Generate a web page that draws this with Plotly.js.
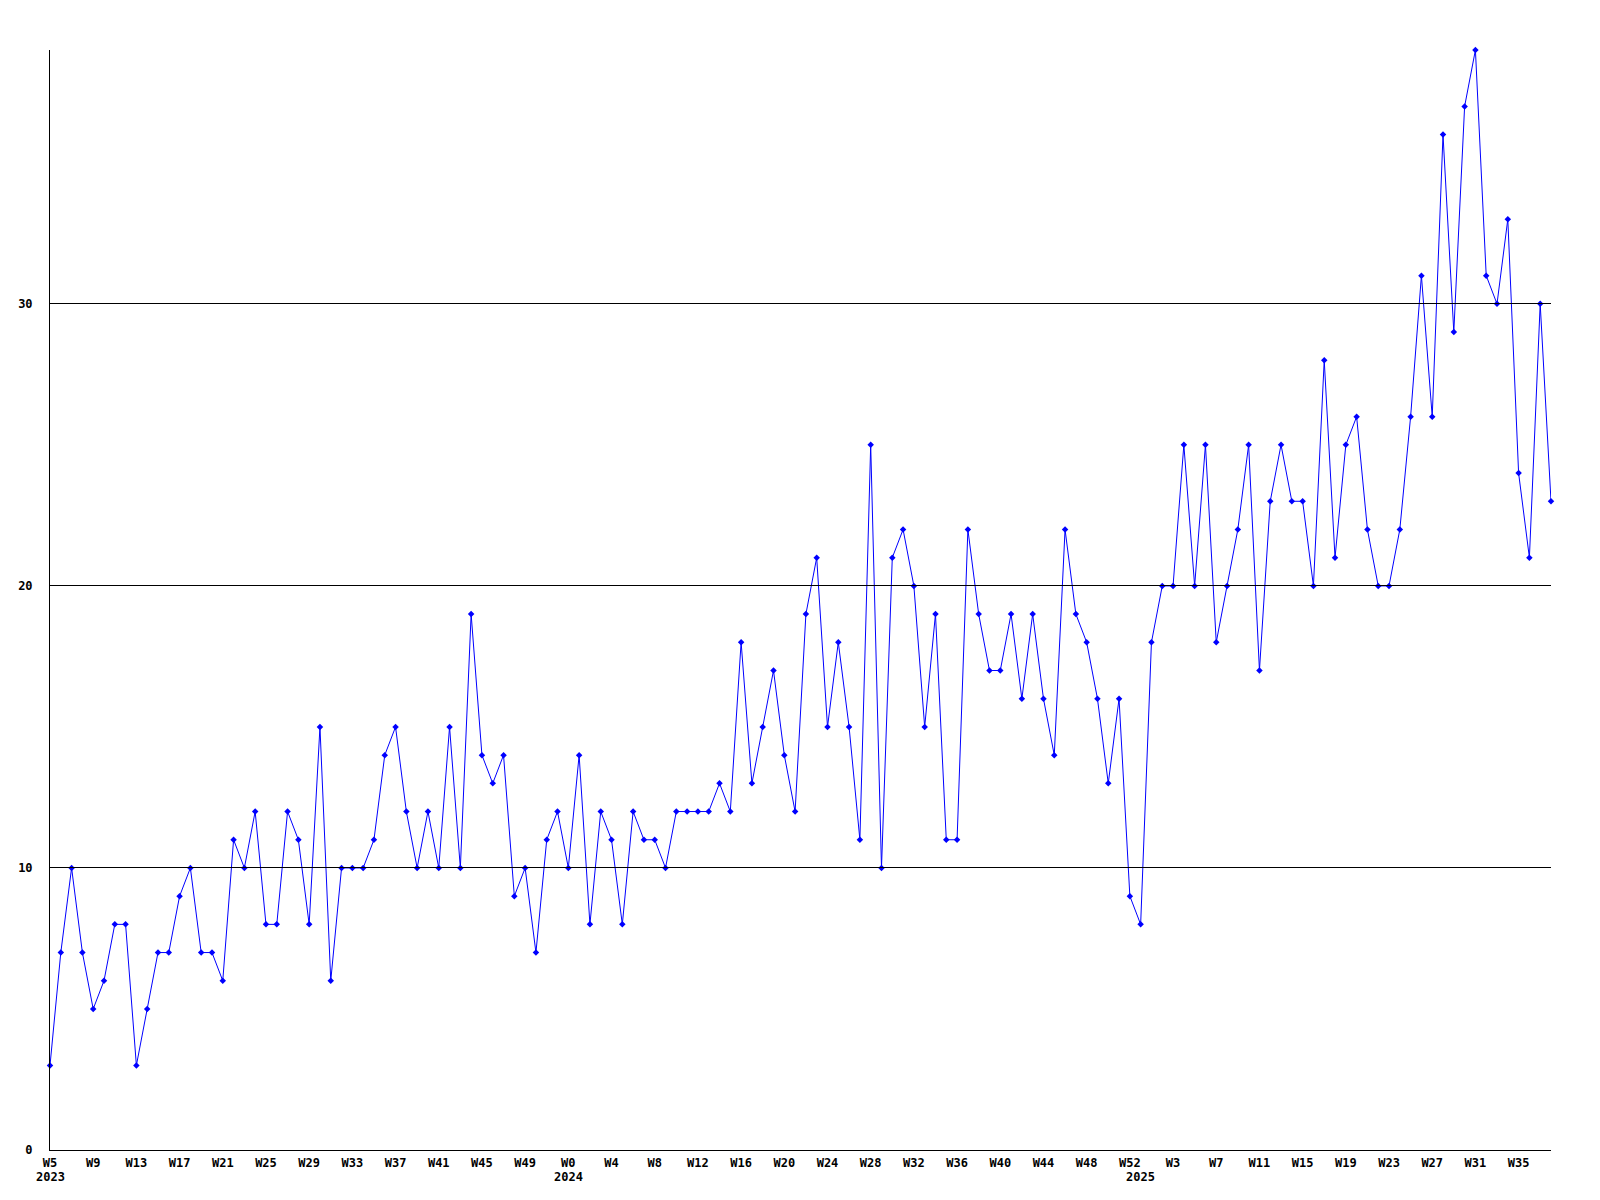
<!DOCTYPE html>
<html>
<head>
<meta charset="utf-8">
<script src="https://cdn.plot.ly/plotly-3.0.1.min.js"></script>
<style>
  html, body { margin: 0; padding: 0; background: #ffffff; }
  #chart { width: 1600px; height: 1200px; }
  .shapelayer path { shape-rendering: crispEdges; }
</style>
</head>
<body>
<div id="chart"></div>
<script>
// ---- Data ----
const years = [2023, 2024, 2025];
const firstWeek = [5, 0, 0];
const lastWeek = [52, 52, 38];

const values2023 = [3, 7, 10, 7, 5, 6, 8, 8, 3, 5, 7, 7, 9, 10, 7, 7, 6, 11, 10, 12, 8, 8, 12, 11,
                    8, 15, 6, 10, 10, 10, 11, 14, 15, 12, 10, 12, 10, 15, 10, 19, 14, 13, 14, 9, 10, 7, 11, 12];
const values2024 = [10, 14, 8, 12, 11, 8, 12, 11, 11, 10, 12, 12, 12, 12, 13, 12, 18, 13, 15, 17, 14, 12, 19, 21,
                    15, 18, 15, 11, 25, 10, 21, 22, 20, 15, 19, 11, 11, 22, 19, 17, 17, 19, 16, 19, 16, 14, 22, 19,
                    18, 16, 13, 16, 9];
const values2025 = [8, 18, 20, 20, 25, 20, 25, 18, 20, 22, 25, 17, 23, 25, 23, 23, 20, 28, 21, 25, 26, 22, 20, 20,
                    22, 26, 31, 26, 36, 29, 37, 39, 31, 30, 33, 24, 21, 30, 23];

const yTicks = [0, 10, 20, 30];
const tickEvery = 4;

// ---- Build week sequence ----
const seriesByYear = [values2023, values2024, values2025];
const weekLabels = [];
const yearStartIndex = [];
const allValues = [];
years.forEach((yr, k) => {
  yearStartIndex.push(weekLabels.length);
  for (let w = firstWeek[k]; w <= lastWeek[k]; w++) {
    weekLabels.push('W' + w);
  }
  seriesByYear[k].forEach(v => allValues.push(v));
});
const xIdx = weekLabels.map((_, i) => i);

const tickvals = [], ticktext = [];
for (let i = 0; i < weekLabels.length; i += tickEvery) {
  tickvals.push(i);
  ticktext.push(weekLabels[i]);
}

const font = { family: '"DejaVu Sans Mono", "Liberation Mono", monospace', size: 12, color: '#000000', weight: 'bold' };

const trace = {
  x: xIdx,
  y: allValues,
  type: 'scatter',
  mode: 'lines+markers',
  line: { color: '#0000ff', width: 1 },
  marker: { color: '#0000ff', symbol: 'diamond', size: 5 },
  cliponaxis: false,
  hoverinfo: 'skip'
};

const shapes = yTicks.filter(v => v > 0).map(v => ({
  type: 'line', xref: 'paper', yref: 'y',
  x0: 0, x1: 1, y0: v, y1: v,
  line: { color: '#000000', width: 1 },
  layer: 'above'
}));

const annotations = years.map((yr, k) => ({
  x: yearStartIndex[k], xref: 'x',
  y: -0.0245, yref: 'paper',
  text: String(yr),
  showarrow: false,
  xanchor: 'center', yanchor: 'middle',
  font: font
}));

const layout = {
  width: 1600,
  height: 1200,
  margin: { l: 50, r: 49, t: 50, b: 50 },
  paper_bgcolor: '#ffffff',
  plot_bgcolor: '#ffffff',
  showlegend: false,
  font: font,
  xaxis: {
    range: [0, weekLabels.length - 1],
    tickmode: 'array',
    tickvals: tickvals,
    ticktext: ticktext,
    showgrid: false,
    zeroline: false,
    showline: true,
    linecolor: '#000000',
    linewidth: 1,
    ticks: '',
    tickfont: font,
    ticklabelstandoff: 2
  },
  yaxis: {
    range: [0, 39],
    tickmode: 'array',
    tickvals: yTicks,
    ticktext: yTicks.map(String),
    showgrid: false,
    zeroline: false,
    showline: true,
    linecolor: '#000000',
    linewidth: 1,
    ticks: '',
    tickfont: font,
    ticklabelstandoff: 14
  },
  shapes: shapes,
  annotations: annotations,
  hovermode: false
};

Plotly.newPlot('chart', [trace], layout, { displayModeBar: false, staticPlot: true });
</script>
</body>
</html>
